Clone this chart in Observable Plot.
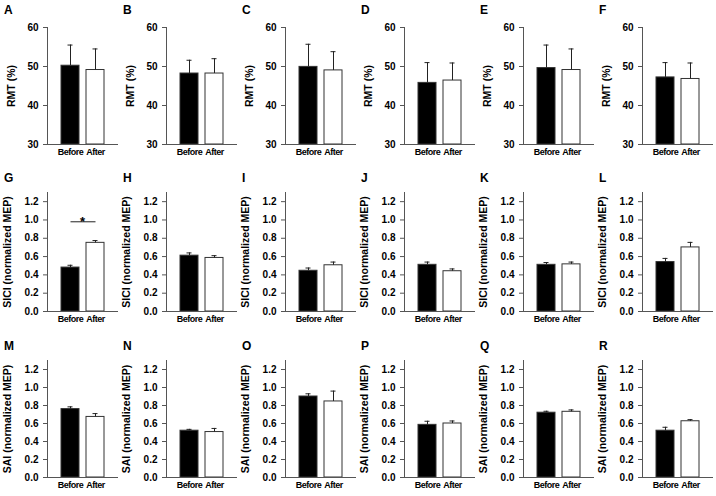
<!DOCTYPE html>
<html>
<head>
<meta charset="utf-8">
<script src="https://cdn.jsdelivr.net/npm/d3@7"></script>
<script src="https://cdn.jsdelivr.net/npm/@observablehq/plot@0.6"></script>
<style>
  html, body { margin: 0; padding: 0; background: #fff; }
  #wrap { position: relative; width: 716px; height: 496px; overflow: hidden; font-family: "Liberation Sans", Arial, sans-serif; }
  .panel { position: absolute; }
  .panel [aria-label="x-axis tick label"] { letter-spacing: -0.5px; }
  .letter { position: absolute; font: bold 12px "Liberation Sans", Arial, sans-serif; color: #000; }
</style>
</head>
<body>
<div id="wrap"></div>
<script>
// ---- data ----
const panelLetters = ["A","B","C","D","E","F","G","H","I","J","K","L","M","N","O","P","Q","R"];
const conditions = ["Before", "After"];
const rowLabels = ["RMT (%)", "SICI (normalized MEP)", "SAI (normalized MEP)"];
const rmtTicks = [30, 40, 50, 60];
const mepTicks = [0, 0.2, 0.4, 0.6, 0.8, 1.0, 1.2];
const beforeMean  = [50.2, 48.2, 49.9, 45.8, 49.6, 47.2,  0.48, 0.61, 0.445, 0.51, 0.51, 0.54,  0.76, 0.52, 0.90, 0.585, 0.72, 0.52];
const beforeUpper = [55.5, 51.6, 55.7, 51.0, 55.5, 51.0,  0.505, 0.64, 0.475, 0.54, 0.535, 0.58,  0.785, 0.535, 0.93, 0.625, 0.736, 0.558];
const afterMean   = [49.1, 48.2, 49.0, 46.4, 49.1, 46.8,  0.75, 0.585, 0.505, 0.44, 0.515, 0.70,  0.673, 0.505, 0.845, 0.60, 0.73, 0.625];
const afterUpper  = [54.5, 52.0, 53.8, 50.9, 54.5, 50.9,  0.775, 0.61, 0.54, 0.465, 0.54, 0.755,  0.71, 0.545, 0.96, 0.628, 0.751, 0.643];
const significance = [{panel: "G", y: 0.98, mark: "*"}];

// ---- layout ----
const rows = [
  {top: 0,   marginTop: 27, marginBottom: 18, height: 162, domain: [30, 60],  ticks: rmtTicks, format: d3.format("d"),   labelDx: -40, letterTop: 3},
  {top: 160, marginTop: 32, marginBottom: 18, height: 169, domain: [0, 1.3], ticks: mepTicks, format: d3.format(".1f"), labelDx: -44, letterTop: 171},
  {top: 330, marginTop: 30, marginBottom: 18, height: 165, domain: [0, 1.3], ticks: mepTicks, format: d3.format(".1f"), labelDx: -44, letterTop: 339}
];
const panelWidth = 119;
const axisColor = "#555";
const font = "'Liberation Sans', Arial, sans-serif";

const wrap = document.getElementById("wrap");

panelLetters.forEach((letter, k) => {
  const r = Math.floor(k / 6), c = k % 6;
  const row = rows[r];
  const data = [
    {cond: conditions[0], mean: beforeMean[k], upper: beforeUpper[k]},
    {cond: conditions[1], mean: afterMean[k], upper: afterUpper[k]}
  ];
  const sig = significance.filter(s => s.panel === letter);
  const base = row.domain[0];

  const chart = Plot.plot({
    width: panelWidth,
    height: row.height,
    marginLeft: 47,
    marginRight: 2,
    marginTop: row.marginTop,
    marginBottom: row.marginBottom,
    style: {fontFamily: font, fontWeight: "bold", background: "transparent", overflow: "visible", color: "#000"},
    x: {domain: conditions, paddingInner: 0.3, paddingOuter: 0.5, label: null},
    y: {domain: row.domain, label: null},
    color: {domain: conditions, range: ["#000", "#fff"]},
    marks: [
      Plot.barY(data, {x: "cond", y1: base, y2: "mean", fill: "cond", stroke: "#333", strokeWidth: 1}),
      Plot.ruleX(data, {x: "cond", y1: "mean", y2: "upper", stroke: "#222", strokeWidth: 1}),
      Plot.tickY(data, {x: "cond", y: "upper", stroke: "#222", strokeWidth: 1, insetLeft: 6.5, insetRight: 6.5}),
      Plot.link(sig, {x1: () => conditions[0], x2: () => conditions[1], y1: "y", y2: "y", stroke: "#222", strokeWidth: 1}),
      Plot.text(sig, {y: "y", text: "mark", frameAnchor: "middle", lineAnchor: "middle", fontSize: 13, fontWeight: "bold", dy: 0}),
      Plot.axisY({ticks: row.ticks, tickFormat: row.format, tickSize: 4, tickPadding: 5, stroke: axisColor, fontSize: 10, fontWeight: "bold", label: null}),
      Plot.axisX({tickSize: 0, tickPadding: 4, fontSize: 9, fontWeight: "bold", label: null}),
      Plot.frame({anchor: "left", stroke: axisColor}),
      Plot.frame({anchor: "bottom", stroke: axisColor}),
      Plot.text([rowLabels[r]], {frameAnchor: "left", rotate: -90, dx: row.labelDx, textAnchor: "middle", lineAnchor: "top", fontSize: 10.5, fontWeight: "bold"})
    ]
  });
  chart.classList.add("panel");
  chart.style.left = (c * panelWidth) + "px";
  chart.style.top = row.top + "px";
  wrap.appendChild(chart);

  const lab = document.createElement("div");
  lab.className = "letter";
  lab.textContent = letter;
  lab.style.left = (c * panelWidth + 4) + "px";
  lab.style.top = row.letterTop + "px";
  wrap.appendChild(lab);
});
</script>
</body>
</html>
